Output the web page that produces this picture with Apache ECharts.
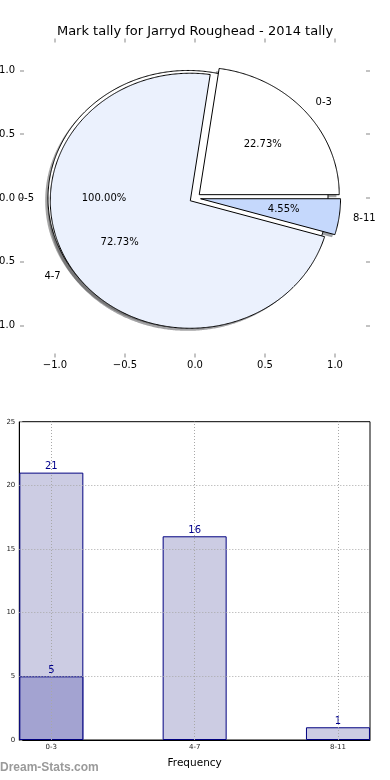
<!DOCTYPE html>
<html>
<head>
<meta charset="utf-8">
<script src="https://cdn.jsdelivr.net/npm/echarts@6/dist/echarts.min.js"></script>
<style>
html,body{margin:0;padding:0;background:#fff;}
#chart{width:390px;height:780px;}
</style>
</head>
<body>
<div id="chart"></div>
<script>
// ---- data ----
const titleText = 'Mark tally for Jarryd Roughead - 2014 tally';
const pieLabels = ['0-3', '4-7', '8-11'];
const pieValues = [5, 16, 1];
const pieExplode = [0.04, 0.04, 0.04];
const backLabels = ['0-5'];
const backValues = [5];
const backExplode = [0.05];
const pieTicks = [-1, -0.5, 0, 0.5, 1];
const barCategories = ['0-3', '4-7', '8-11'];
const barPositions = [0, 1, 2];
const barTotals = [21, 16, 1];
const barFirst = [5];
const barYTicks = [0, 5, 10, 15, 20, 25];
const barXName = 'Frequency';
const watermark = 'Dream-Stats.com';

// ---- styles ----
const pieColors = ['#ffffff', '#ebf1fd', '#c5d8fc'];
const backColor = '#ffffff';
const FONT = '"DejaVu Sans", sans-serif';

function shadowColor(hex) {
  const r = parseInt(hex.slice(1, 3), 16), g = parseInt(hex.slice(3, 5), 16), b = parseInt(hex.slice(5, 7), 16);
  return 'rgba(' + Math.round(r * 0.3) + ',' + Math.round(g * 0.3) + ',' + Math.round(b * 0.3) + ',0.5)';
}
function wedgeGeom(values, explode, i) {
  const total = values.reduce((a, b) => a + b, 0);
  let cum = 0;
  for (let k = 0; k < i; k++) cum += values[k];
  const a0 = cum / total * 2 * Math.PI, a1 = (cum + values[i]) / total * 2 * Math.PI;
  const mid = (a0 + a1) / 2;
  return { a0, a1, mid, cx: explode[i] * Math.cos(mid), cy: explode[i] * Math.sin(mid), frac: values[i] / total };
}
function wedgePoints(api, g, dx, dy) {
  const pts = [];
  const full = (g.a1 - g.a0) >= 2 * Math.PI - 1e-9;
  if (!full) pts.push(api.coord([g.cx + dx, g.cy + dy]));
  const n = Math.max(8, Math.ceil((g.a1 - g.a0) / (Math.PI / 360)));
  for (let k = 0; k <= n; k++) {
    const a = g.a0 + (g.a1 - g.a0) * k / n;
    pts.push(api.coord([g.cx + dx + Math.cos(a), g.cy + dy + Math.sin(a)]));
  }
  return pts;
}
function fmtTick(v) {
  return (v < 0 ? '\u2212' : '') + Math.abs(v).toFixed(1);
}
function labelEls(api, values, explode, labels, i) {
  const g = wedgeGeom(values, explode, i);
  const lx = g.cx + 1.1 * Math.cos(g.mid), ly = g.cy + 1.1 * Math.sin(g.mid);
  const px = g.cx + 0.6 * Math.cos(g.mid), py = g.cy + 0.6 * Math.sin(g.mid);
  const lp = api.coord([lx, ly]), pp = api.coord([px, py]);
  return {
    type: 'group', children: [
      { type: 'text', style: { text: labels[i], x: lp[0], y: lp[1], align: lx > 0 ? 'left' : 'right', verticalAlign: 'middle', fontSize: 10, fontFamily: FONT, fill: '#000' } },
      { type: 'text', style: { text: (g.frac * 100).toFixed(2) + '%', x: pp[0], y: pp[1], align: 'center', verticalAlign: 'middle', fontSize: 10, fontFamily: FONT, fill: '#000' } }
    ]
  };
}

const chart = echarts.init(document.getElementById('chart'), null, { renderer: 'canvas' });

const pieTickStyle = { show: true, inside: true, length: 4, customValues: pieTicks, lineStyle: { color: '#b0b0b0', width: 1.5 } };
const hiddenLine = { show: true, onZero: false, lineStyle: { color: 'rgba(255,255,255,0)', width: 0.01 } };

const option = {
  animation: false,
  backgroundColor: '#ffffff',
  title: {
    text: titleText, left: 'center', top: 20,
    textStyle: { fontFamily: FONT, fontSize: 13, fontWeight: 'normal', color: '#000' }
  },
  grid: [
    { left: 20, right: 20, top: 38.6, bottom: 422.6, outerBoundsMode: 'none', containLabel: false },
    { left: 19.3, right: 20, top: 421.7, bottom: 40, outerBoundsMode: 'none', containLabel: false, show: true, borderColor: '#000', borderWidth: 1, backgroundColor: 'transparent' }
  ],
  xAxis: [
    { type: 'value', gridIndex: 0, position: 'bottom', min: -1.25, max: 1.25,
      axisLine: hiddenLine, splitLine: { show: false }, axisTick: pieTickStyle,
      axisLabel: { customValues: pieTicks, formatter: fmtTick, fontSize: 10, fontFamily: FONT, color: '#000', margin: 3 } },
    { type: 'value', gridIndex: 0, position: 'top', min: -1.25, max: 1.25,
      axisLine: hiddenLine, splitLine: { show: false }, axisTick: pieTickStyle,
      axisLabel: { show: true, customValues: pieTicks, formatter: () => '' } },
    { type: 'value', gridIndex: 1, position: 'bottom', min: -0.2235, max: 2.2235,
      name: barXName, nameLocation: 'middle', nameGap: 18,
      nameTextStyle: { fontFamily: FONT, fontSize: 10.5, color: '#000' },
      axisLine: { show: true, onZero: false, lineStyle: { color: '#000', width: 1 } }, splitLine: { show: false },
      axisTick: { show: true, inside: true, length: 3, customValues: barPositions, lineStyle: { color: '#999' } },
      axisLabel: { customValues: barPositions, formatter: v => barCategories[barPositions.indexOf(v)], fontSize: 7, fontFamily: FONT, color: '#222', margin: 4 } }
  ],
  yAxis: [
    { type: 'value', gridIndex: 0, position: 'left', min: -1.25, max: 1.25,
      axisLine: hiddenLine, splitLine: { show: false }, axisTick: pieTickStyle,
      axisLabel: { customValues: pieTicks, formatter: fmtTick, fontSize: 10, fontFamily: FONT, color: '#000', margin: 5 } },
    { type: 'value', gridIndex: 0, position: 'right', min: -1.25, max: 1.25,
      axisLine: hiddenLine, splitLine: { show: false }, axisTick: pieTickStyle,
      axisLabel: { show: true, customValues: pieTicks, formatter: () => '' } },
    { type: 'value', gridIndex: 1, position: 'left', min: 0, max: 25, interval: 5,
      axisLine: { show: true, onZero: false, lineStyle: { color: '#000', width: 1 } }, splitLine: { show: false },
      axisTick: { show: true, inside: true, length: 3, lineStyle: { color: '#999' } },
      axisLabel: { fontSize: 7, fontFamily: FONT, color: '#222', margin: 4 } }
  ],
  graphic: [
    { type: 'text', left: 0, top: 762, style: { text: watermark, fontFamily: '"Liberation Sans", Arial, sans-serif', fontWeight: 'bold', fontSize: 12, fill: '#9a9a9a' } }
  ],
  series: [
    // shadows of main wedges
    { type: 'custom', xAxisIndex: 0, yAxisIndex: 0, z: 1, clip: false, silent: true,
      data: pieValues.map(v => [0, 0, v]),
      renderItem: (params, api) => {
        const i = params.dataIndex;
        const g = wedgeGeom(pieValues, pieExplode, i);
        return { type: 'polygon', shape: { points: wedgePoints(api, g, -0.02, -0.02) }, style: { fill: shadowColor(pieColors[i]), stroke: null } };
      } },
    // back pie (single wedge) with shadow
    { type: 'custom', xAxisIndex: 0, yAxisIndex: 0, z: 2, clip: false, silent: true,
      data: backValues.map(v => [0, 0, v]),
      renderItem: (params, api) => {
        const i = params.dataIndex;
        const g = wedgeGeom(backValues, backExplode, i);
        return { type: 'group', children: [
          { type: 'polygon', shape: { points: wedgePoints(api, g, -0.02, -0.02) }, style: { fill: shadowColor(backColor), stroke: null } },
          { type: 'polygon', shape: { points: wedgePoints(api, g, 0, 0) }, style: { fill: backColor, stroke: '#000', lineWidth: 1 } }
        ] };
      } },
    // main wedges
    { type: 'custom', xAxisIndex: 0, yAxisIndex: 0, z: 3, clip: false, silent: true,
      data: pieValues.map(v => [0, 0, v]),
      renderItem: (params, api) => {
        const i = params.dataIndex;
        const g = wedgeGeom(pieValues, pieExplode, i);
        return { type: 'polygon', shape: { points: wedgePoints(api, g, 0, 0) }, style: { fill: pieColors[i], stroke: '#000', lineWidth: 1, lineJoin: 'miter' } };
      } },
    // labels back pie
    { type: 'custom', xAxisIndex: 0, yAxisIndex: 0, z: 4, clip: false, silent: true,
      data: backValues.map(v => [0, 0, v]),
      renderItem: (params, api) => labelEls(api, backValues, backExplode, backLabels, params.dataIndex) },
    // labels main pie
    { type: 'custom', xAxisIndex: 0, yAxisIndex: 0, z: 4, clip: false, silent: true,
      data: pieValues.map(v => [0, 0, v]),
      renderItem: (params, api) => labelEls(api, pieValues, pieExplode, pieLabels, params.dataIndex) },
    // bars
    { type: 'bar', name: 'total', xAxisIndex: 2, yAxisIndex: 2, barWidth: 64, barGap: '-100%', z: 2,
      data: barPositions.map((p, i) => [p, barTotals[i]]),
      itemStyle: { color: '#ccccE3', borderColor: '#000080', borderWidth: 1 },
      label: { show: true, position: 'top', distance: 1, color: '#00008b', fontSize: 10, fontFamily: FONT },
      markLine: { silent: true, symbol: ['none', 'none'], label: { show: false }, animation: false,
        lineStyle: { color: '#a8a8a8', type: [1, 2], width: 1 },
        data: barPositions.map(p => ({ xAxis: p })).concat(barYTicks.slice(1, -1).map(v => ({ yAxis: v }))) } },
    { type: 'bar', name: 'first', xAxisIndex: 2, yAxisIndex: 2, barWidth: 64, barGap: '-100%', z: 3,
      data: barFirst.map((v, i) => [barPositions[i], v]),
      itemStyle: { color: '#a3a3d1', borderColor: '#000080', borderWidth: 1 },
      label: { show: true, position: 'top', distance: 1, color: '#00008b', fontSize: 10, fontFamily: FONT } }
  ]
};
chart.setOption(option);
</script>
</body>
</html>
